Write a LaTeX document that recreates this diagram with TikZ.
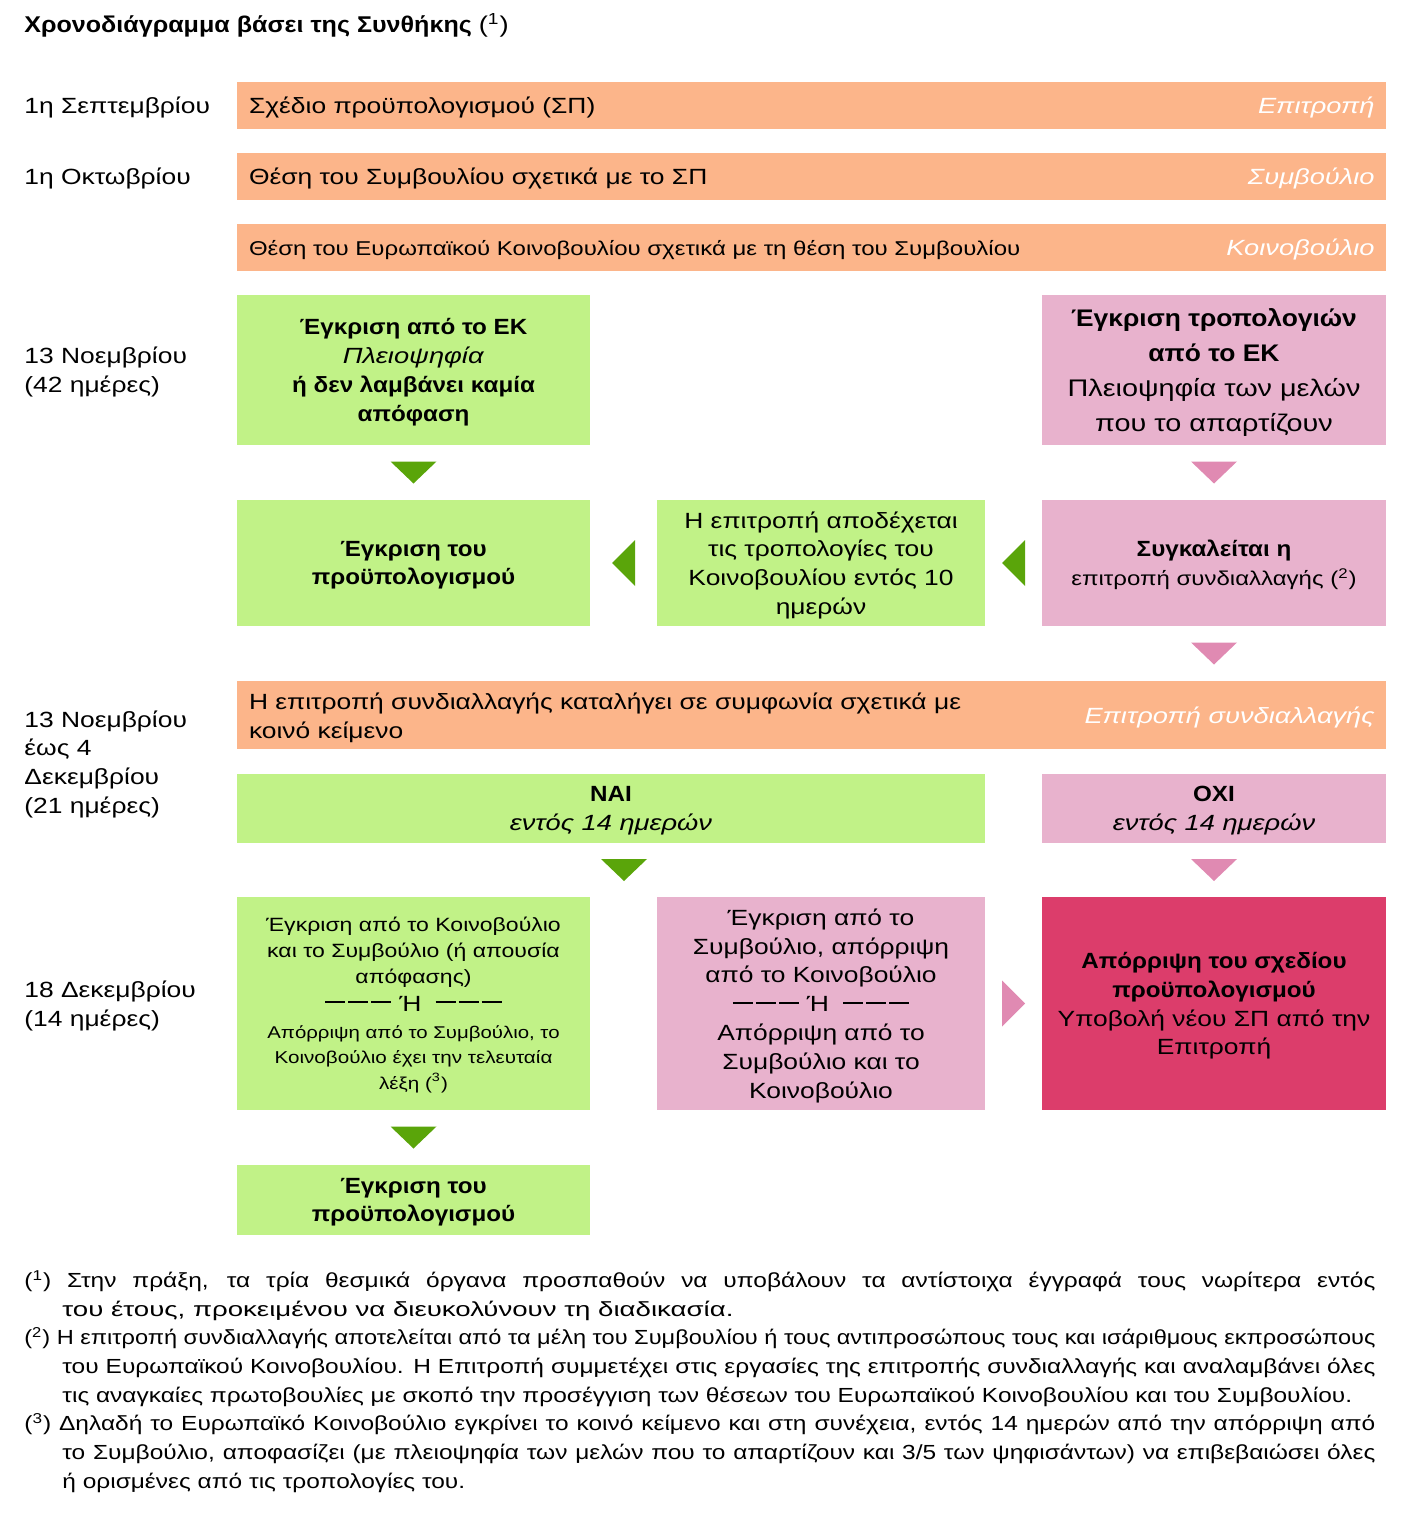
\documentclass[tikz,border=0pt]{standalone}
\usepackage{fontspec}
\usepackage{graphicx}
\setmainfont{Liberation Sans}[UprightFeatures={FakeStretch=1.2}, BoldFeatures={FakeStretch=1.1}, ItalicFeatures={FakeStretch=1.24}]
\usetikzlibrary{calc,positioning}
\definecolor{peach}{HTML}{FCB58A}
\definecolor{leaf}{HTML}{C1F287}
\definecolor{rose}{HTML}{E8B2CD}
\definecolor{crimson}{HTML}{DC3D6B}
\definecolor{leafdark}{HTML}{5AA50A}
\definecolor{rosedark}{HTML}{E08AB2}
\newcommand{\arrdown}[2]{\fill[#1] (#2) +(-11.5pt,5.5pt) -- +(11.5pt,5.5pt) -- +(0pt,-5.5pt) -- cycle;}
\newcommand{\arrleft}[2]{\fill[#1] (#2) +(5.75pt,11.5pt) -- +(5.75pt,-11.5pt) -- +(-5.75pt,0pt) -- cycle;}
\newcommand{\arrright}[2]{\fill[#1] (#2) +(-5.75pt,11.5pt) -- +(-5.75pt,-11.5pt) -- +(5.75pt,0pt) -- cycle;}
\newcommand{\dashbar}{\rule[3.9pt]{10pt}{1pt}\kern1.5pt\rule[3.9pt]{10pt}{1pt}\kern1.5pt\rule[3.9pt]{10pt}{1pt}}
\newcommand{\orsep}{\dashbar\hspace{4pt}Ή\hspace{7pt}\dashbar}
\tikzset{
  font=\fontsize{11}{14.4}\selectfont,
  title/.style={anchor=west, inner sep=0pt, font=\fontsize{11.4}{14.4}\selectfont\bfseries},
  bar/.style={fill=peach, minimum height=23.5pt, text width=562.5pt, inner xsep=6pt, inner ysep=0pt, outer sep=0pt, text depth=0pt, align=left},
  who/.style={anchor=east, text=white, inner sep=0pt, text depth=0pt, font=\fontsize{11}{14.4}\selectfont\itshape},
  block/.style={minimum width=176.5pt, inner sep=0pt, outer sep=0pt, text depth=0pt, align=center},
  okbox/.style={block, fill=leaf},
  nobox/.style={block, fill=rose},
  failbox/.style={block, fill=crimson},
  datelbl/.style={anchor=west, align=left, inner sep=0pt, text depth=0pt},
  notes/.style={inner sep=0pt, text width=675.5pt, align=justify, font=\fontsize{10.2}{14.35}\selectfont}
}
\begin{document}
\begin{tikzpicture}[x=0.5pt, y=-0.5pt, node distance=12pt]
  \useasboundingbox (0,0) rectangle (1410,1520);
  \node[title] (title) at (24,25) {Χρονοδιάγραμμα βάσει της Συνθήκης \mdseries(\textsuperscript{1})};

  % Draft budget and first readings
  \node[bar, anchor=north west] (b1) at (237,82) {Σχέδιο προϋπολογισμού (ΣΠ)};
  \node[bar, below=of b1] (b2) {Θέση του Συμβουλίου σχετικά με το ΣΠ};
  \node[bar, below=of b2, font=\fontsize{10}{13}\selectfont] (b3) {Θέση του Ευρωπαϊκού Κοινοβουλίου σχετικά με τη θέση του Συμβουλίου};
  \node[who] (w1) at ([xshift=-5.5pt]b1.east) {Επιτροπή};
  \node[who] (w2) at ([xshift=-5.5pt]b2.east) {Συμβούλιο};
  \node[who] (w3) at ([xshift=-5.5pt]b3.east) {Κοινοβούλιο};

  % Parliament vote
  \node[okbox, minimum height=75pt, below=of b3.south west, anchor=north west] (g1) {\textbf{Έγκριση από το ΕΚ}\\\textit{Πλειοψηφία}\\\textbf{ή δεν λαμβάνει καμία}\\\textbf{απόφαση}};
  \node[nobox, minimum width=172pt, minimum height=75pt, below=of b3.south east, anchor=north east, font=\fontsize{12}{17.5}\selectfont] (p1) {\textbf{Έγκριση τροπολογιών}\\\textbf{από το ΕΚ}\\Πλειοψηφία των μελών\\που το απαρτίζουν};

  \node[okbox, minimum height=63pt, below=27.5pt of g1] (g2) {\textbf{Έγκριση του}\\\textbf{προϋπολογισμού}};
  \node[nobox, minimum width=172pt, minimum height=63pt, below=27.5pt of p1] (p2) {\textbf{Συγκαλείται η}\\{\fontsize{10}{14.4}\selectfont επιτροπή συνδιαλλαγής (\textsuperscript{2})}};
  \node[okbox, minimum width=164pt, minimum height=63pt, left=28.5pt of p2] (g3) {Η επιτροπή αποδέχεται\\τις τροπολογίες του\\Κοινοβουλίου εντός 10\\ημερών};

  % Conciliation
  \node[bar, minimum height=34pt, text depth=14pt, below=27.5pt of g2.south west, anchor=north west] (b4) {Η επιτροπή συνδιαλλαγής καταλήγει σε συμφωνία σχετικά με\\κοινό κείμενο};
  \node[who] (w4) at ([xshift=-5.5pt]b4.east) {Επιτροπή συνδιαλλαγής};
  \node[okbox, minimum width=374pt, minimum height=34.5pt, below=12.5pt of b4.south west, anchor=north west] (ok) {\textbf{ΝΑΙ}\\\textit{εντός 14 ημερών}};
  \node[nobox, minimum width=172pt, minimum height=34.5pt, below=12.5pt of b4.south east, anchor=north east] (ko) {\textbf{ΟΧΙ}\\\textit{εντός 14 ημερών}};

  % Joint text vote
  \node[okbox, minimum height=106.5pt, below=27pt of ok.south west, anchor=north west, font=\fontsize{9.6}{12.9}\selectfont] (g4) {Έγκριση από το Κοινοβούλιο\\και το Συμβούλιο (ή απουσία\\απόφασης)\\[1pt]{\fontsize{11}{13}\selectfont\orsep}\\[0.5pt]{\fontsize{8.5}{12.5}\selectfont Απόρριψη από το Συμβούλιο, το}\\{\fontsize{8.6}{12.5}\selectfont Κοινοβούλιο έχει την τελευταία}\\{\fontsize{8.6}{12.5}\selectfont λέξη (\textsuperscript{3})}};
  \node[nobox, minimum width=164pt, minimum height=106.5pt, below=27pt of ok.south east, anchor=north east] (p4) {Έγκριση από το\\Συμβούλιο, απόρριψη\\από το Κοινοβούλιο\\\orsep\\Απόρριψη από το\\Συμβούλιο και το\\Κοινοβούλιο};
  \node[failbox, minimum width=172pt, minimum height=106.5pt, below=27pt of ko] (r4) {\textbf{Απόρριψη του σχεδίου}\\\textbf{προϋπολογισμού}\\Υποβολή νέου ΣΠ από την\\Επιτροπή};
  \node[okbox, minimum height=35pt, below=27.5pt of g4] (g5) {\textbf{Έγκριση του}\\\textbf{προϋπολογισμού}};

  % Arrows
  \arrdown{leafdark}{$(g1.south)!.5!(g2.north)$}
  \arrdown{rosedark}{$(p1.south)!.5!(p2.north)$}
  \arrleft{leafdark}{$(p2.west)!.5!(g3.east)$}
  \arrleft{leafdark}{$(g3.west)!.5!(g2.east)$}
  \arrdown{rosedark}{$(p2.south)!.5!(b4.north -| p2.south)$}
  \arrdown{leafdark}{$(ok.south)+(6.5pt,-13.5pt)$}
  \arrdown{rosedark}{$(ko.south)!.5!(r4.north)$}
  \arrright{rosedark}{$(p4.east)!.5!(r4.west)$}
  \arrdown{leafdark}{$(g4.south)!.5!(g5.north)$}

  % Dates
  \coordinate (m4) at ($(b4.north)!.5!(ok.south)$);
  \node[datelbl] (d1) at (24,0 |- b1) {1η Σεπτεμβρίου};
  \node[datelbl] (d2) at (24,0 |- b2) {1η Οκτωβρίου};
  \node[datelbl] (d3) at (24,0 |- g1) {13 Νοεμβρίου\\(42 ημέρες)};
  \node[datelbl] (d4) at (24,0 |- m4) {13 Νοεμβρίου\\έως 4\\Δεκεμβρίου\\(21 ημέρες)};
  \node[datelbl] (d5) at (24,0 |- g4) {18 Δεκεμβρίου\\(14 ημέρες)};

  % Footnotes
  \node[notes, anchor=north west] (fn) at (24,1270) {\parindent=0pt
    \hangindent=19pt\hangafter=1 (\textsuperscript{1})~Στην πράξη, τα τρία θεσμικά όργανα προσπαθούν να υποβάλουν τα αντίστοιχα έγγραφά τους νωρίτερα εντός\linebreak \resizebox{335.5pt}{\height}{του έτους, προκειμένου να διευκολύνουν τη διαδικασία.}\par
    \hangindent=19pt\hangafter=1 \resizebox{675.5pt}{\height}{(\textsuperscript{2})~Η επιτροπή συνδιαλλαγής αποτελείται από τα μέλη του Συμβουλίου ή τους αντιπροσώπους τους και ισάριθμους εκπροσώπους}\linebreak του Ευρωπαϊκού Κοινοβουλίου. Η Επιτροπή συμμετέχει στις εργασίες της επιτροπής συνδιαλλαγής και αναλαμβάνει όλες\linebreak τις αναγκαίες πρωτοβουλίες με σκοπό την προσέγγιση των θέσεων του Ευρωπαϊκού Κοινοβουλίου και του Συμβουλίου.\par
    \hangindent=19pt\hangafter=1 (\textsuperscript{3})~Δηλαδή το Ευρωπαϊκό Κοινοβούλιο εγκρίνει το κοινό κείμενο και στη συνέχεια, εντός 14 ημερών από την απόρριψη από\linebreak το Συμβούλιο, αποφασίζει (με πλειοψηφία των μελών που το απαρτίζουν και 3/5 των ψηφισάντων) να επιβεβαιώσει όλες\linebreak ή ορισμένες από τις τροπολογίες του.\par};
\end{tikzpicture}
\end{document}
